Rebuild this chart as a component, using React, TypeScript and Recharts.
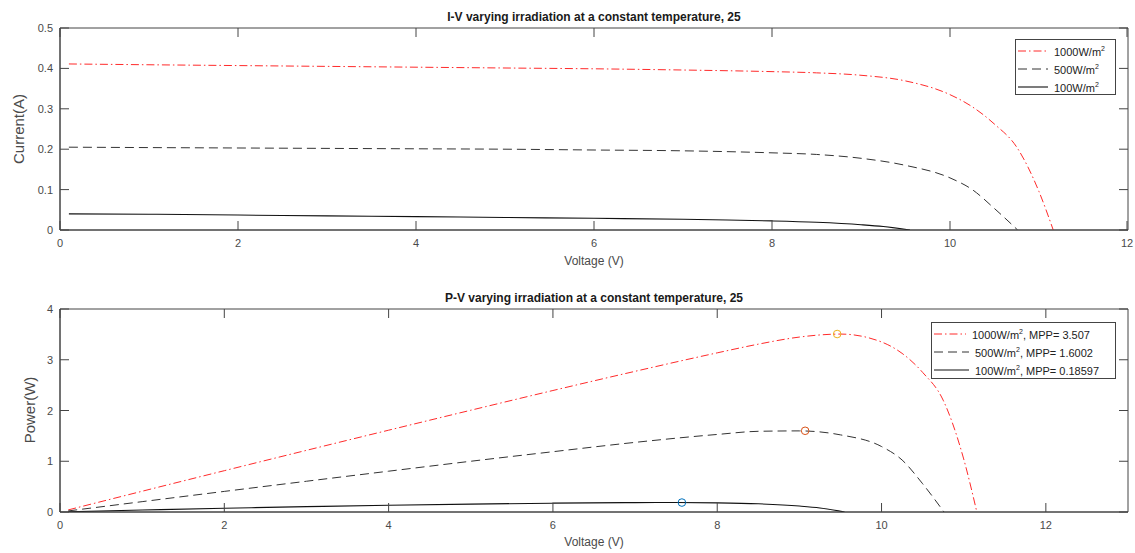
import { ComposedChart, Line, Scatter, XAxis, YAxis, ReferenceArea } from 'recharts';

// I-V / P-V readings for three irradiation levels (25 C)
const v1000 = [0.1, 1, 2, 3, 4, 5, 6, 7, 8, 8.5, 9, 9.5, 10, 10.25, 10.5, 10.75, 11, 11.16];
const i1000 = [0.411, 0.409, 0.407, 0.405, 0.403, 0.401, 0.399, 0.396, 0.392, 0.389, 0.383, 0.369, 0.335, 0.305, 0.262, 0.205, 0.095, 0];
const p1000 = [0.041, 0.409, 0.814, 1.215, 1.612, 2.005, 2.394, 2.772, 3.136, 3.307, 3.447, 3.506, 3.35, 3.126, 2.751, 2.204, 1.045, 0];

const v500 = [0.1, 1, 2, 3, 4, 5, 6, 7, 8, 8.5, 9, 9.5, 10, 10.25, 10.5, 10.76];
const i500 = [0.205, 0.204, 0.203, 0.202, 0.201, 0.2, 0.198, 0.196, 0.191, 0.187, 0.1775, 0.16, 0.129, 0.1, 0.053, 0];
const p500 = [0.021, 0.204, 0.406, 0.606, 0.804, 1.0, 1.188, 1.372, 1.528, 1.59, 1.598, 1.52, 1.29, 1.025, 0.557, 0];

const v100 = [0.1, 1, 2, 3, 4, 5, 6, 7, 7.5, 8, 8.5, 9, 9.25, 9.55];
const i100 = [0.04, 0.039, 0.037, 0.035, 0.033, 0.031, 0.029, 0.0265, 0.0248, 0.0225, 0.019, 0.013, 0.0085, 0];
const p100 = [0.004, 0.039, 0.074, 0.105, 0.132, 0.155, 0.174, 0.1855, 0.186, 0.18, 0.1615, 0.117, 0.079, 0];

const mppVoltage = [9.46, 9.07, 7.57];
const mppPower = [3.507, 1.6002, 0.18597];

const ivTicksX = [0, 2, 4, 6, 8, 10, 12];
const ivTicksY = [0, 0.1, 0.2, 0.3, 0.4, 0.5];
const pvTicksY = [0, 1, 2, 3, 4];

const FONT = 'Arial, "Liberation Sans", Helvetica, sans-serif';
const AXIS = '#444';
const TXT = '#4a4a4a';
const RED_DASH = '8 3 1.5 3';
const BLACK_DASH = '9 5';
const MPP_COLORS = ['#EDB120', '#D95319', '#0072BD'];
const W = 1135;

const pts = (xs: number[], ys: number[]) => xs.map((v, k) => ({ v, y: ys[k] }));

const ivSeries = [
  { name: '1000', data: pts(v1000, i1000), color: '#ff2a2a', dash: RED_DASH, w: 1 },
  { name: '500', data: pts(v500, i500), color: '#333', dash: BLACK_DASH, w: 1 },
  { name: '100', data: pts(v100, i100), color: '#111', dash: undefined, w: 1.1 },
];
const pvSeries = [
  { name: '1000', data: pts(v1000, p1000), color: '#ff2a2a', dash: RED_DASH, w: 1 },
  { name: '500', data: pts(v500, p500), color: '#333', dash: BLACK_DASH, w: 1 },
  { name: '100', data: pts(v100, p100), color: '#111', dash: undefined, w: 1.1 },
];
const mppPoints = mppVoltage.map((v, k) => ({ v, y: mppPower[k] }));

// MATLAB style box: tick marks point into the plot on all four sides
const TICK = 9;
const txt = { fontSize: 11, fill: TXT, fontFamily: FONT };

function Frame({ xMax, yMax, yTicks, height, margin, children }: any) {
  const plotTop = margin.top;
  const plotRight = W - margin.right;
  const bottomTick = (p: any) => (
    <g>
      <line x1={p.x} x2={p.x} y1={p.y} y2={p.y - TICK} stroke={AXIS} strokeWidth={1} />
      <line x1={p.x} x2={p.x} y1={plotTop} y2={plotTop + TICK} stroke={AXIS} strokeWidth={1} />
      <text x={p.x} y={p.y + 17} textAnchor="middle" {...txt}>{p.payload.value}</text>
    </g>
  );
  const leftTick = (p: any) => (
    <g>
      <line x1={p.x} x2={p.x + TICK} y1={p.y} y2={p.y} stroke={AXIS} strokeWidth={1} />
      <line x1={plotRight} x2={plotRight - TICK} y1={p.y} y2={p.y} stroke={AXIS} strokeWidth={1} />
      <text x={p.x - 7} y={p.y + 4} textAnchor="end" {...txt}>{p.payload.value}</text>
    </g>
  );
  const common = { tickSize: 0, tickMargin: 0, tickLine: false, stroke: AXIS, allowDataOverflow: true };
  return (
    <ComposedChart width={W} height={height} margin={margin}>
      <XAxis type="number" dataKey="v" domain={[0, xMax]} ticks={ivTicksX} height={30} tick={bottomTick} {...common} />
      <YAxis type="number" domain={[0, yMax]} ticks={yTicks} width={60} tick={leftTick} {...common} />
      <ReferenceArea x1={0} x2={xMax} y1={0} y2={yMax} fill="none" stroke={AXIS} strokeWidth={1} ifOverflow="visible" />
      {children}
    </ComposedChart>
  );
}

function LegendRow({ dash, color, w, children, lineW }: any) {
  return (
    <div style={{ display: 'flex', alignItems: 'center', height: 18 }}>
      <svg width={lineW} height={8} style={{ marginRight: 4 }}>
        <line x1={2} y1={4} x2={lineW - 2} y2={4} stroke={color} strokeWidth={w} strokeDasharray={dash} />
      </svg>
      <span>{children}</span>
    </div>
  );
}

const sup = <sup style={{ fontSize: 7, verticalAlign: 5 }}>2</sup>;

export default function App() {
  const abs = (x: number, y: number): any => ({ position: 'absolute', left: x, top: y });
  return (
    <div style={{ position: 'absolute', left: 0, top: 0, width: W, height: 553, background: '#fff', fontFamily: FONT, color: '#222' }}>
      <div style={abs(0, 0)}>
        <Frame xMax={12} yMax={0.5} yTicks={ivTicksY} height={280} margin={{ top: 28, right: 7, left: 0, bottom: 20 }}>
          {ivSeries.map((s) => (
            <Line key={s.name} data={s.data} dataKey="y" type="monotone" dot={false}
              stroke={s.color} strokeWidth={s.w} strokeDasharray={s.dash} isAnimationActive={false} />
          ))}
        </Frame>
      </div>
      <div style={abs(0, 280)}>
        <Frame xMax={13} yMax={4} yTicks={pvTicksY} height={273} margin={{ top: 29, right: 7, left: 0, bottom: 11 }}>
          {pvSeries.map((s) => (
            <Line key={s.name} data={s.data} dataKey="y" type="monotone" dot={false}
              stroke={s.color} strokeWidth={s.w} strokeDasharray={s.dash} isAnimationActive={false} />
          ))}
          {mppPoints.map((p, k) => (
            <Scatter key={k} data={[p]} dataKey="y" isAnimationActive={false}
              shape={(props: any) => (
                <circle cx={props.cx} cy={props.cy} r={3.8} fill="none" stroke={MPP_COLORS[k]} strokeWidth={1} />
              )} />
          ))}
        </Frame>
      </div>

      {/* titles and axis labels */}
      <div style={{ ...abs(60, 10), width: 1068, textAlign: 'center', fontSize: 12, fontWeight: 'bold', color: '#1a1a1a' }}>
        I-V varying irradiation at a constant temperature, 25
      </div>
      <div style={{ ...abs(60, 291), width: 1068, textAlign: 'center', fontSize: 12, fontWeight: 'bold', color: '#1a1a1a' }}>
        P-V varying irradiation at a constant temperature, 25
      </div>
      <div style={{ ...abs(60, 254), width: 1068, textAlign: 'center', fontSize: 12, color: TXT }}>Voltage (V)</div>
      <div style={{ ...abs(60, 535), width: 1068, textAlign: 'center', fontSize: 12, color: TXT }}>Voltage (V)</div>
      <div style={{ ...abs(18, 129), transform: 'translate(-50%, -50%) rotate(-90deg)', fontSize: 15, color: TXT, whiteSpace: 'nowrap' }}>Current(A)</div>
      <div style={{ ...abs(29, 410), transform: 'translate(-50%, -50%) rotate(-90deg)', fontSize: 15, color: TXT, whiteSpace: 'nowrap' }}>Power(W)</div>

      {/* legends */}
      <div style={{ ...abs(1015, 39), width: 101, height: 56, border: '1px solid #444', background: '#fff', fontSize: 11, paddingTop: 2, boxSizing: 'border-box' }}>
        <LegendRow lineW={34} dash={RED_DASH} color="#ff2a2a" w={1}>1000W/m{sup}</LegendRow>
        <LegendRow lineW={34} dash={BLACK_DASH} color="#333" w={1}>500W/m{sup}</LegendRow>
        <LegendRow lineW={34} color="#111" w={1.1}>100W/m{sup}</LegendRow>
      </div>
      <div style={{ ...abs(931, 322), width: 185, height: 57, border: '1px solid #444', background: '#fff', fontSize: 11, paddingTop: 2, boxSizing: 'border-box' }}>
        <LegendRow lineW={36} dash={RED_DASH} color="#ff2a2a" w={1}>1000W/m{sup}, MPP= 3.507</LegendRow>
        <LegendRow lineW={39} dash={BLACK_DASH} color="#333" w={1}>500W/m{sup}, MPP= 1.6002</LegendRow>
        <LegendRow lineW={39} color="#111" w={1.1}>100W/m{sup}, MPP= 0.18597</LegendRow>
      </div>
    </div>
  );
}
